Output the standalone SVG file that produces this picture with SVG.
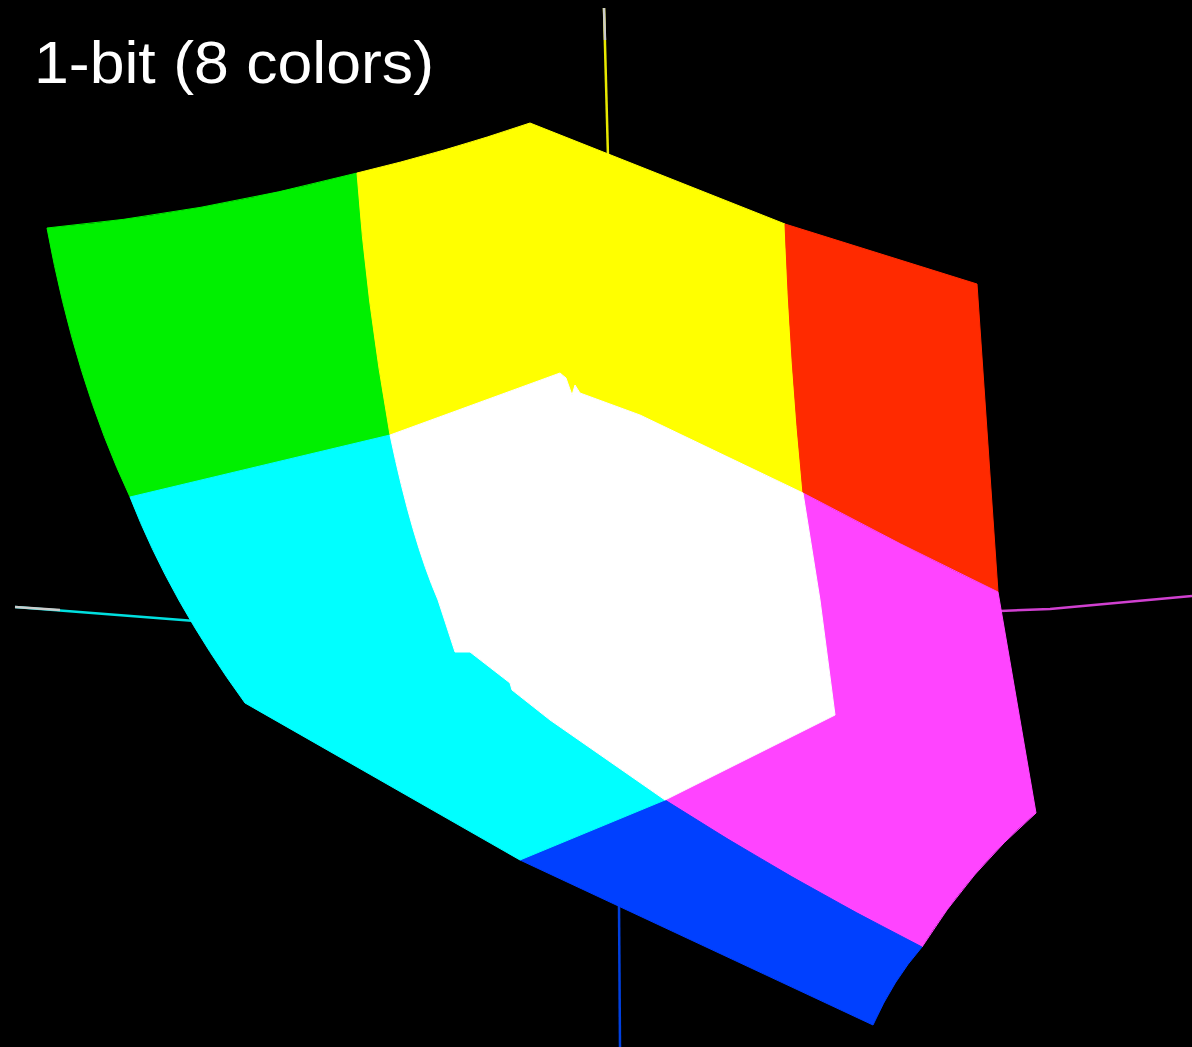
<svg xmlns="http://www.w3.org/2000/svg" width="1192" height="1047" viewBox="0 0 1192 1047">
<style>
.ax{fill:none;stroke-width:2.5;stroke-linecap:butt}
.face{stroke-width:1;stroke-linejoin:round}
.title{font-family:"Liberation Sans","Open Sans",sans-serif;font-size:60px;fill:#ffffff}
</style>
<rect x="0" y="0" width="1192" height="1047" fill="#000000"/>
<g id="axes">
<path class="ax" d="M15,607 L195,621" stroke="#00e0e0"/>
<path class="ax" d="M15,607 L60,610" stroke="#cccccc"/>
<path class="ax" d="M1000,611 L1050,609 L1192,596" stroke="#d040d0"/>
<path class="ax" d="M604,8 L608,157" stroke="#e8e800"/>
<path class="ax" d="M604,8 L605,40" stroke="#cccccc"/>
<path class="ax" d="M619,905 L620,1047" stroke="#0040e0"/>
</g>
<g id="faces">
<path id="green" class="face" fill="#00f000" stroke="#00f000" d="M47,228 Q200,214 357,173 Q366,300 390,435 L130,497 Q75,380 47,228 Z"/>
<path id="yellow" class="face" fill="#ffff00" stroke="#ffff00" d="M357,173 Q445,152 530,123 L785,224 Q790,360 803,493 L640,415 L580,393 L575,385 L572,395 L566,378 L560,373 L390,435 Q366,300 357,173 Z"/>
<path id="red" class="face" fill="#ff2a00" stroke="#ff2a00" d="M785,224 L977,284 L998,592 Q900,545 803,493 Q790,360 785,224 Z"/>
<path id="magenta" class="face" fill="#ff44ff" stroke="#ff44ff" d="M803,493 Q900,545 998,592 L1036,813 Q970,870 922,947 Q790,880 665,800 L835,715 L820,600 Z"/>
<path id="blue" class="face" fill="#0040ff" stroke="#0040ff" d="M665,800 Q790,880 922,947 Q893,980 873,1025 L520,860 Z"/>
<path id="cyan" class="face" fill="#00ffff" stroke="#00ffff" d="M390,435 Q412,540 438,600 L455,652 L470,652 L510,683 L512,690 L550,720 L665,800 L520,860 L245,703 Q170,600 130,497 Z"/>
<path id="white" class="face" fill="#ffffff" stroke="#ffffff" d="M390,435 L560,373 L566,378 L572,395 L575,385 L580,393 L640,415 L803,493 L820,600 L835,715 L665,800 L550,720 L512,690 L510,683 L470,652 L455,652 L438,600 Q412,540 390,435 Z"/>
</g>
<text class="title" x="34" y="83" textLength="400" lengthAdjust="spacingAndGlyphs">1-bit (8 colors)</text>
</svg>
